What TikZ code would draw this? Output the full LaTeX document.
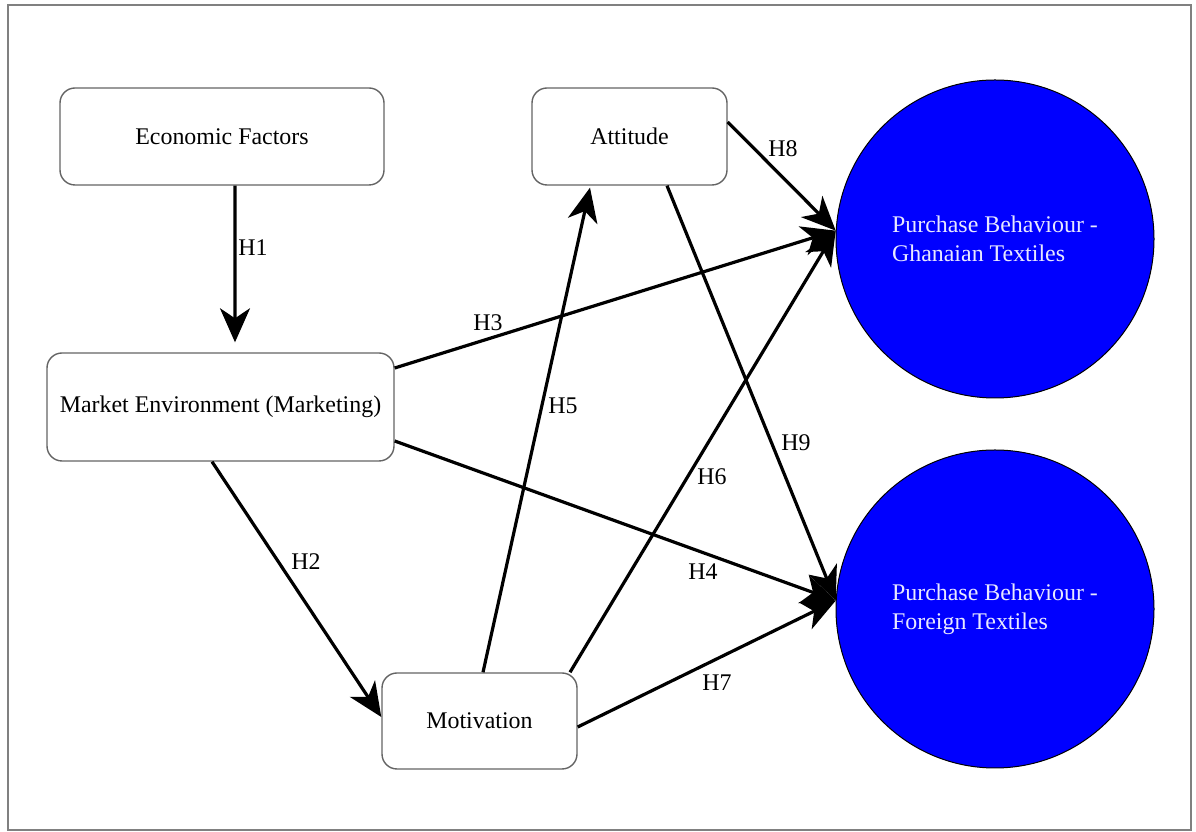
\documentclass[tikz,border=0pt]{standalone}
\usepackage{fontspec}
\setmainfont{Liberation Serif}
\usetikzlibrary{arrows.meta,shapes.geometric,calc}
\definecolor{boxline}{RGB}{100,100,100}
\definecolor{frameline}{RGB}{128,128,128}
\definecolor{pureblue}{RGB}{0,0,255}
\definecolor{lighttext}{RGB}{232,232,255}
\tikzset{
  boxnode/.style={draw=boxline, line width=1.4bp, rounded corners=15bp, fill=white, inner sep=0pt, align=center},
  circnode/.style={circle, draw=black, line width=1bp, fill=pureblue, minimum size=318bp, inner sep=0pt, text=lighttext, align=left},
  hyp/.style={line width=3.2bp, draw=black, -{Stealth[length=34bp,width=30bp,inset=10bp]}},
  hlabel/.style={inner sep=0pt, text=black},
}
\begin{document}
\begin{tikzpicture}[x=1bp,y=1bp,font=\fontsize{24}{29}\selectfont]
\useasboundingbox (0,0) rectangle (1196,832);
\draw[frameline, line width=1.5bp] (8,2) rectangle (1191,827);

\node[boxnode, minimum width=324bp, minimum height=97bp] (eco) at (222,695.5) {Economic Factors};
\node[boxnode, minimum width=195bp, minimum height=97bp] (att) at (629.5,695.5) {Attitude};
\node[boxnode, minimum width=347bp, minimum height=108bp] (mkt) at (220.5,425) {Market Environment (Marketing)};
\node[boxnode, minimum width=195bp, minimum height=96bp] (mot) at (479.5,111) {Motivation};
\node[circnode] (c1) at (995,593) {Purchase Behaviour -\\Ghanaian Textiles};
\node[circnode] (c2) at (995,223) {Purchase Behaviour -\\Foreign Textiles};

\draw[hyp] ([xshift=13bp]eco.south) -- ([xshift=14.5bp,yshift=10bp]mkt.north);
\draw[hyp] ([xshift=-8.5bp]mkt.south) -- ([yshift=4bp]mot.west);
\draw[hyp] ([yshift=39bp]mkt.east) -- (c1.177);
\draw[hyp] ([yshift=-34bp]mkt.east) -- (c2.177);
\draw[hyp] ([xshift=3.5bp]mot.north) -- ([xshift=-39.5bp,yshift=-2bp]att.south);
\draw[hyp] ([xshift=90.5bp]mot.north) -- (c1.177);
\draw[hyp] ([yshift=-6bp]mot.east) -- (c2.177);
\draw[hyp] ([yshift=14.5bp]att.east) -- (c1.177);
\draw[hyp] ([xshift=37.5bp]att.south) -- (c2.177);

\node[hlabel] (l1) at (253,584) {H1};
\node[hlabel] (l2) at (306,270) {H2};
\node[hlabel] (l3) at (488,509) {H3};
\node[hlabel] (l4) at (703,260) {H4};
\node[hlabel] (l5) at (563,426) {H5};
\node[hlabel] (l6) at (712,355) {H6};
\node[hlabel] (l7) at (717,149) {H7};
\node[hlabel] (l8) at (783,683) {H8};
\node[hlabel] (l9) at (796,389) {H9};
\end{tikzpicture}
\end{document}
